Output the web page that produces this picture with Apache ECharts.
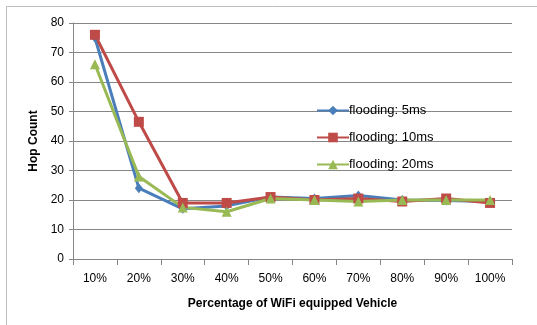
<!DOCTYPE html>
<html>
<head>
<meta charset="utf-8">
<script src="https://cdn.jsdelivr.net/npm/echarts@6.0.0/dist/echarts.min.js"></script>
<style>
  html, body { margin: 0; padding: 0; background: #fff; }
  #chart { width: 537px; height: 325px; }
</style>
</head>
<body>
<div id="chart"></div>
<script>
// categories on the x axis
var categories = ['10%', '20%', '30%', '40%', '50%', '60%', '70%', '80%', '90%', '100%'];
// hop counts
var flood5 = [75, 24, 17, 18, 21, 20.5, 21.5, 20, 19.8, 19.5];
var flood10 = [76, 46.5, 19, 19, 21, 20, 20.5, 19.5, 20.5, 19];
var flood20 = [66, 28, 17.5, 16, 20.5, 20, 19.5, 20, 20, 20];

var seriesNames = ['flooding: 5ms', 'flooding: 10ms', 'flooding: 20ms'];
var colors = ['#4a7ebb', '#be4b48', '#98b954'];

var font = 'Liberation Sans';

function makeLine(name, data, color, symbol, size) {
    return {
        name: name,
        type: 'line',
        data: data,
        symbol: symbol,
        symbolSize: size,
        showAllSymbol: true,
        lineStyle: { color: color, width: 3 },
        itemStyle: { color: color },
        emphasis: { disabled: true },
        animation: false
    };
}

var option = {
    backgroundColor: '#fff',
    textStyle: { fontFamily: font },
    graphic: [{
        type: 'rect',
        shape: { x: 6.5, y: 6.5, width: 600, height: 400 },
        style: { fill: 'none', stroke: '#bdbdbd', lineWidth: 1 },
        silent: true
    }],
    grid: { left: 73, right: 25, top: 23, bottom: 66 },
    legend: {
        orient: 'vertical',
        left: 311,
        top: 99,
        itemWidth: 32,
        itemHeight: 12,
        itemGap: 14,
        data: seriesNames,
        textStyle: { fontFamily: font, fontSize: 13, color: '#000', padding: [0, 0, 0, -5] }
    },
    xAxis: {
        type: 'category',
        data: categories,
        boundaryGap: true,
        name: 'Percentage of WiFi equipped Vehicle',
        nameLocation: 'middle',
        nameGap: 39,
        nameTextStyle: { fontFamily: font, fontSize: 12, fontWeight: 'bold', color: '#000' },
        axisLine: { lineStyle: { color: '#868686', width: 1 } },
        axisTick: { show: true, alignWithLabel: false, length: 6, lineStyle: { color: '#868686' } },
        axisLabel: { fontFamily: font, fontSize: 12, color: '#000', margin: 14 },
        splitLine: { show: false }
    },
    yAxis: {
        type: 'value',
        min: 0,
        max: 80,
        interval: 10,
        name: 'Hop Count',
        nameLocation: 'middle',
        nameGap: 33,
        nameTextStyle: { fontFamily: font, fontSize: 12, fontWeight: 'bold', color: '#000' },
        axisLine: { show: true, lineStyle: { color: '#868686', width: 1 } },
        axisTick: { show: true, length: 4, lineStyle: { color: '#868686' } },
        axisLabel: { fontFamily: font, fontSize: 12, color: '#000', margin: 9 },
        splitLine: { show: true, lineStyle: { color: '#868686', width: 1 } }
    },
    series: [
        makeLine(seriesNames[0], flood5, colors[0], 'diamond', [8, 10]),
        makeLine(seriesNames[1], flood10, colors[1], 'rect', 10),
        makeLine(seriesNames[2], flood20, colors[2], 'triangle', 10)
    ]
};

var myChart = echarts.init(document.getElementById('chart'), null, { renderer: 'canvas' });
myChart.setOption(option);
</script>
</body>
</html>
